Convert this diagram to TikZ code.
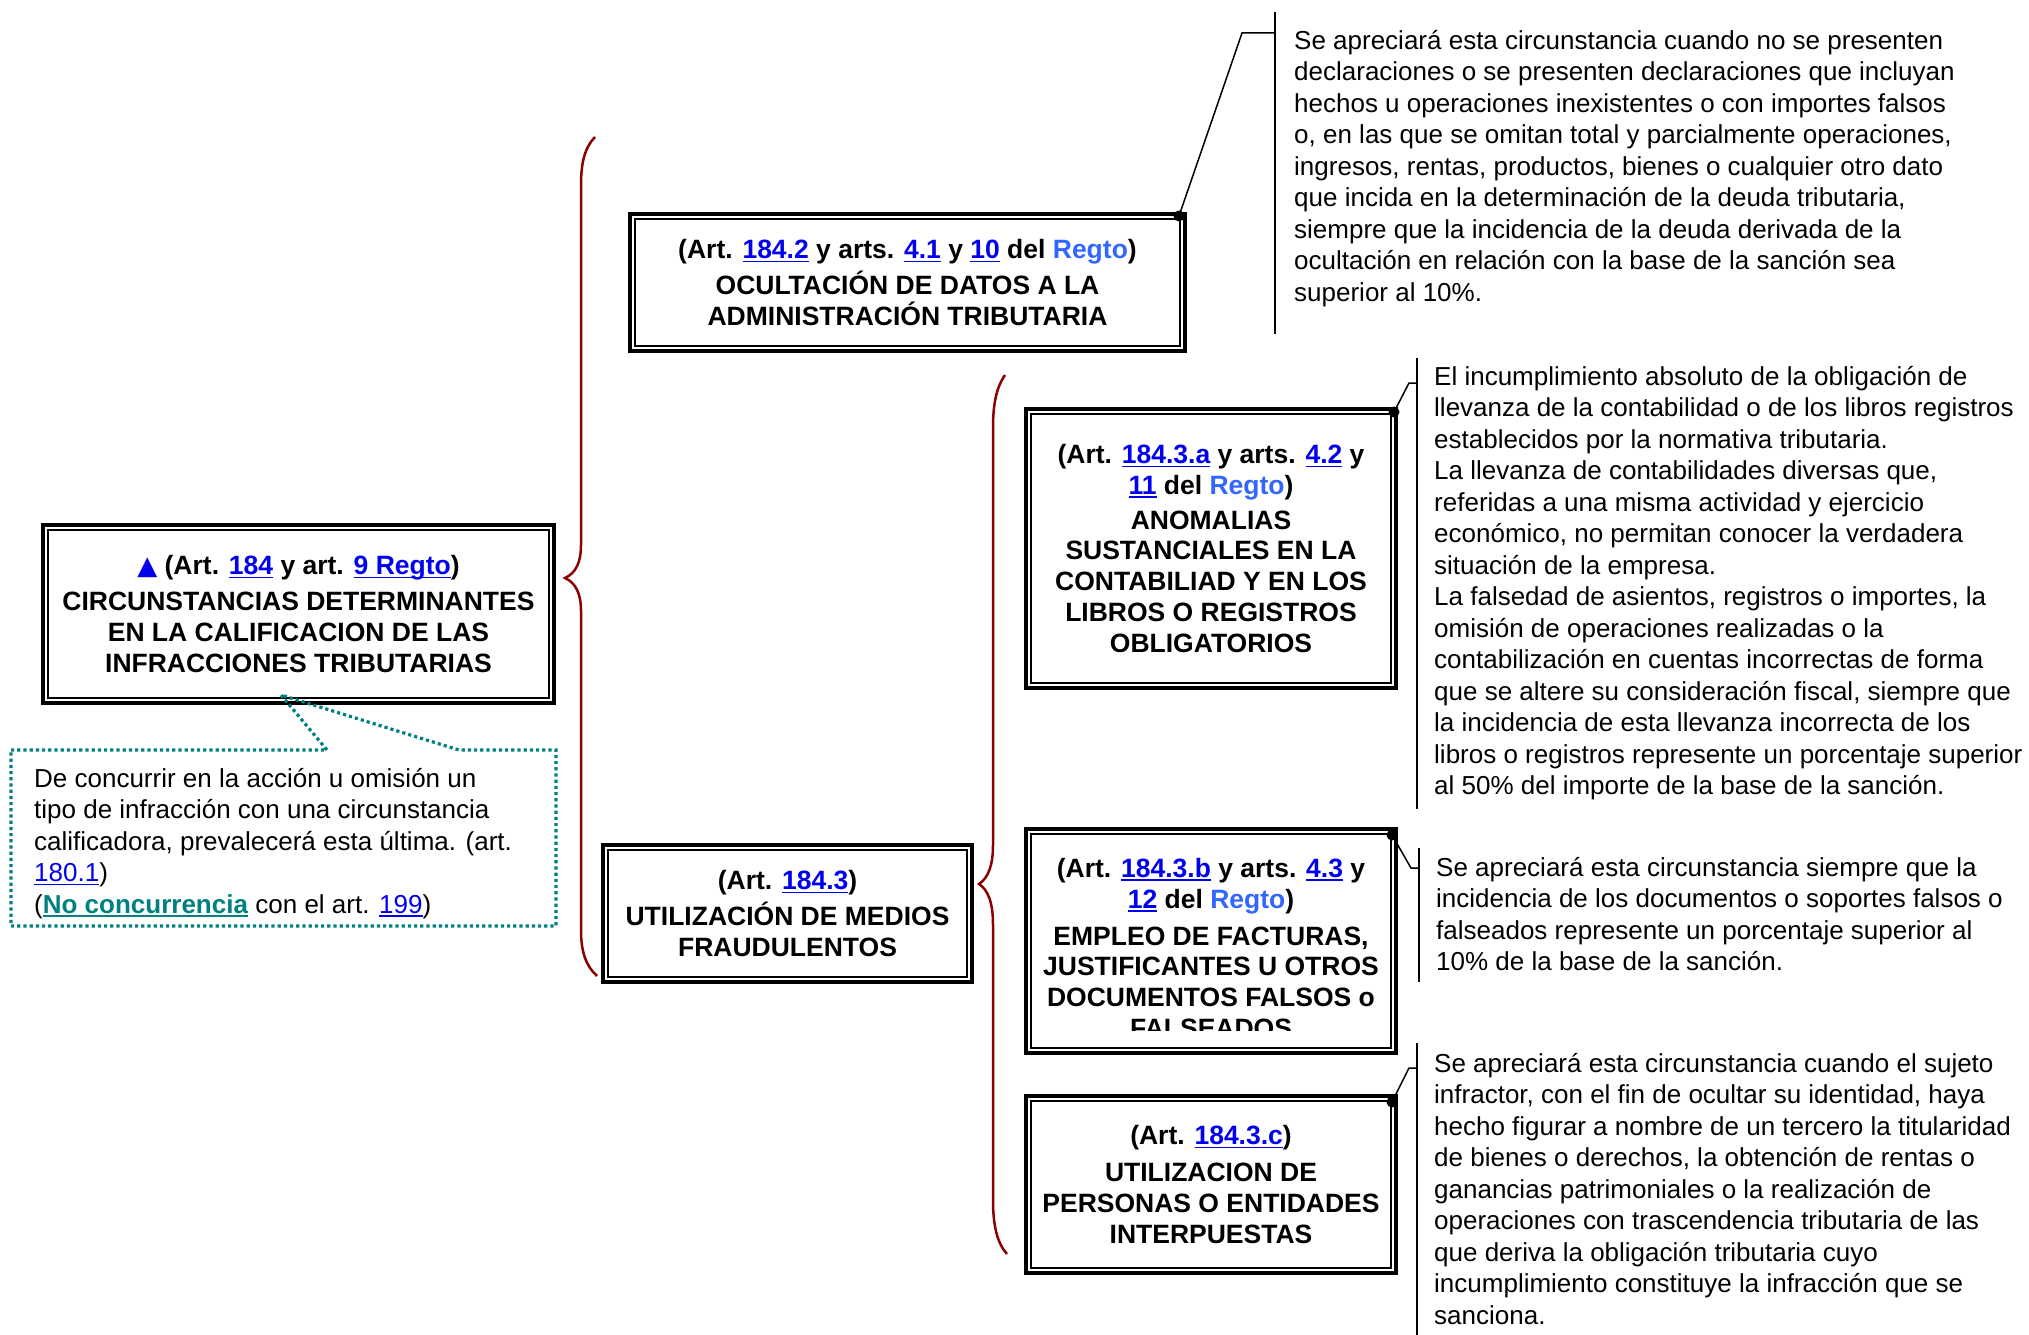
\documentclass[tikz,border=0pt]{standalone}
\usepackage{fontspec}
\setmainfont{Liberation Sans}
\newfontfamily\dejavu{DejaVu Sans}
\usetikzlibrary{calc}
\definecolor{lblue}{RGB}{0,0,238}
\definecolor{rblue}{RGB}{51,102,255}
\definecolor{tealc}{RGB}{0,128,128}
\definecolor{bred}{RGB}{139,0,0}
\newcommand\lnk[2][lblue]{\textcolor{#1}{\setbox0\hbox{#2}\rlap{\rule[-3.5pt]{\wd0}{1.5pt}}\box0}}
\newcommand\boxfont{\fontsize{26.5}{30.8}\selectfont\bfseries}
\newcommand\txtfont{\fontsize{26}{31.5}\selectfont}
\newcommand\tri{{\dejavu\fontsize{26}{30.8}\selectfont\textcolor{lblue}{▲}}}
\begin{document}
\begin{tikzpicture}[x=1pt,y=-1pt,
  dbox/.style={draw, line width=3.5pt, inner sep=0pt, outer sep=0pt, align=center, font=\boxfont},
  innerline/.style={line width=2pt},
  txt/.style={anchor=north west, align=left, inner sep=0pt, font=\txtfont},
  brace/.style={draw=bred, line width=2.5pt},
  leader/.style={line width=1.5pt},
  vline/.style={line width=2pt},
  ldot/.style={fill=black, circle, inner sep=0pt, minimum size=11pt},
  note/.style={draw=tealc, line width=3.2pt, dash pattern=on 3.2pt off 3pt}]
\useasboundingbox (0,0) rectangle (2029,1335);

% boxes
\node[dbox, minimum width=511pt, minimum height=178pt] (main) at (298.5,614)
 {\tri\ (Art. \lnk{184} y art. \lnk{9 Regto})\\[5pt]
  CIRCUNSTANCIAS DETERMINANTES\\
  EN LA CALIFICACION DE LAS\\
  INFRACCIONES TRIBUTARIAS};
\node[dbox, minimum width=555pt, minimum height=137pt] (b2) at (907.5,282.5)
 {(Art. \lnk{184.2} y arts. \lnk{4.1} y \lnk{10} del \textcolor{rblue}{Regto})\\[5pt]
  OCULTACIÓN DE DATOS A LA\\
  ADMINISTRACIÓN TRIBUTARIA};
\node[dbox, minimum width=369pt, minimum height=137pt] (b3) at (787.5,913.5)
 {(Art. \lnk{184.3})\\[5pt]
  UTILIZACIÓN DE MEDIOS\\
  FRAUDULENTOS};
\node[dbox, minimum width=370pt, minimum height=279pt] (b4) at (1211,548.5)
 {(Art. \lnk{184.3.a} y arts. \lnk{4.2} y\\
  \lnk{11} del \textcolor{rblue}{Regto})\\[4pt]
  ANOMALIAS\\
  SUSTANCIALES EN LA\\
  CONTABILIAD Y EN LOS\\
  LIBROS O REGISTROS\\
  OBLIGATORIOS};
\node[dbox, minimum width=370pt, minimum height=224pt] (b5) at (1211,941) {};
\begin{scope}
  \clip (1031,834) rectangle (1391,1030);
  \node[inner sep=0pt, align=center, font=\boxfont, anchor=north] (b5t) at (1211,858)
   {(Art. \lnk{184.3.b} y arts. \lnk{4.3} y\\
    \lnk{12} del \textcolor{rblue}{Regto})\\[6pt]
    EMPLEO DE FACTURAS,\\
    JUSTIFICANTES U OTROS\\
    DOCUMENTOS FALSOS o\\
    FALSEADOS};
\end{scope}
\node[dbox, minimum width=370pt, minimum height=177pt] (b6) at (1211,1184.5)
 {(Art. \lnk{184.3.c})\\[6pt]
  UTILIZACION DE\\
  PERSONAS O ENTIDADES\\
  INTERPUESTAS};
\foreach \n in {main,b2,b3,b4,b5,b6}
  \draw[innerline] ($(\n.south west)+(4.8pt,4.8pt)$) rectangle ($(\n.north east)-(4.8pt,4.8pt)$);

% braces
\draw[brace] (595,137) .. controls (584,148) and (581,165) .. (581,185) -- (581,545)
  .. controls (581,562) and (576,573) .. (565,578)
  .. controls (576,583) and (581,594) .. (581,611) -- (581,930)
  .. controls (581,952) and (586,966) .. (597,976);
\draw[brace] (1005,375) .. controls (996,388) and (993,405) .. (993,428) -- (993,845)
  .. controls (993,866) and (988,878) .. (979,884)
  .. controls (988,890) and (993,902) .. (993,925) -- (993,1200)
  .. controls (993,1225) and (997,1243) .. (1007,1254);

% note callout
\node[txt] (nt) at (34,768)
 {De concurrir en la acción u omisión un\\
  tipo de infracción con una circunstancia\\
  calificadora, prevalecerá esta última. (art.\\
  \lnk{180.1})\\
  (\lnk[tealc]{\textbf{No concurrencia}} con el art. \lnk{199})};
\coordinate (ptip) at (281,695);
\draw[note] (11,750) -- (327,750) -- (ptip) -- (459,750) -- (556,750) -- (556,926) -- (11,926) -- cycle;

% text callouts
\node[txt] (c1) at (1294,30)
 {Se apreciará esta circunstancia cuando no se presenten\\
  declaraciones o se presenten declaraciones que incluyan\\
  hechos u operaciones inexistentes o con importes falsos\\
  o, en las que se omitan total y parcialmente operaciones,\\
  ingresos, rentas, productos, bienes o cualquier otro dato\\
  que incida en la determinación de la deuda tributaria,\\
  siempre que la incidencia de la deuda derivada de la\\
  ocultación en relación con la base de la sanción sea\\
  superior al 10\%.};
\node[txt] (c2) at (1434,366)
 {El incumplimiento absoluto de la obligación de\\
  llevanza de la contabilidad o de los libros registros\\
  establecidos por la normativa tributaria.\\
  La llevanza de contabilidades diversas que,\\
  referidas a una misma actividad y ejercicio\\
  económico, no permitan conocer la verdadera\\
  situación de la empresa.\\
  La falsedad de asientos, registros o importes, la\\
  omisión de operaciones realizadas o la\\
  contabilización en cuentas incorrectas de forma\\
  que se altere su consideración fiscal, siempre que\\
  la incidencia de esta llevanza incorrecta de los\\
  libros o registros represente un porcentaje superior\\
  al 50\% del importe de la base de la sanción.};
\node[txt] (c3) at (1436,857)
 {Se apreciará esta circunstancia siempre que la\\
  incidencia de los documentos o soportes falsos o\\
  falseados represente un porcentaje superior al\\
  10\% de la base de la sanción.};
\node[txt] (c4) at (1434,1053)
 {Se apreciará esta circunstancia cuando el sujeto\\
  infractor, con el fin de ocultar su identidad, haya\\
  hecho figurar a nombre de un tercero la titularidad\\
  de bienes o derechos, la obtención de rentas o\\
  ganancias patrimoniales o la realización de\\
  operaciones con trascendencia tributaria de las\\
  que deriva la obligación tributaria cuyo\\
  incumplimiento constituye la infracción que se\\
  sanciona.};

% vertical bars and leaders
\coordinate (v1t) at (1275,12); \coordinate (v1b) at (1275,334);
\coordinate (v2t) at (1417,358); \coordinate (v2b) at (1417,809);
\coordinate (v3t) at (1419,848); \coordinate (v3b) at (1419,982);
\coordinate (v4t) at (1417,1043); \coordinate (v4b) at (1417,1335);
\draw[vline] (v1t) -- (v1b);
\draw[vline] (v2t) -- (v2b);
\draw[vline] (v3t) -- (v3b);
\draw[vline] (v4t) -- (v4b);
\draw[leader] (1179,216) -- (1242,33) -- (1275,33);
\draw[leader] (1394,412) -- (1409,383) -- (1417,383);
\draw[leader] (1392,835) -- (1411,868) -- (1419,868);
\draw[leader] (1392,1102) -- (1409,1068) -- (1417,1068);
\node[ldot] (d1) at (1179,216) {};
\node[ldot] (d2) at (1394,412) {};
\node[ldot] (d3) at (1392,835) {};
\node[ldot] (d4) at (1392,1102) {};
\end{tikzpicture}
\end{document}
